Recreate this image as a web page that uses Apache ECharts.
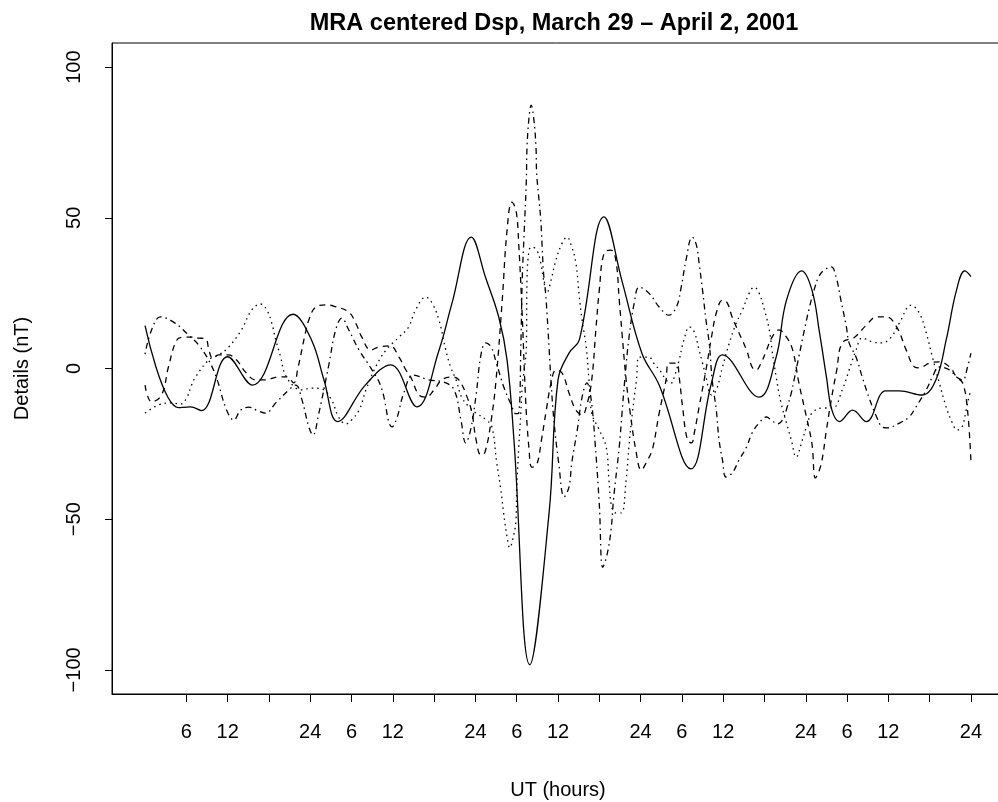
<!DOCTYPE html>
<html>
<head>
<meta charset="utf-8">
<script src="https://cdn.jsdelivr.net/npm/echarts@6/dist/echarts.min.js"></script>
<style>
html,body{margin:0;padding:0;background:#fff;}
#chart{width:998px;height:802px;}
</style>
</head>
<body>
<div id="chart"></div>
<script>
// ---- data (hours since 00 UT March 29, value in nT) ----
var solidHours  = [0,4.9,6.6,8.2,12,15.6,21.5,24.2,26,28,32,35.7,39.5,42.7,44.6,47.4,49.5,51.4,52.6,53.6,55.9,58.7,60,61.6,63.1,66.7,69.3,72.2,74.7,79.3,82.3,83.9,89.2,91.7,93.2,95.4,96.9,98,99,99.8,100.9,102.8,104.8,107.6,109.6,112.9,114.9,116.4,117.9,119.1,120];
var solidValues = [14.2,-13,-12.7,-14,3.9,-5.5,18,9.4,-3.8,-17.6,-5.5,1.2,-12.7,6,21.7,43.6,30,17,2.8,-23.7,-98.3,-48,-3.8,5.1,9.5,50.3,29,5,-5.5,-33.3,-4.8,4.5,-9.5,3.8,22.7,32.4,26,11.8,-2.8,-13.8,-17.6,-13.8,-17.6,-7.4,-7.4,-8.8,-3.8,9.5,26,32.4,30.5];

var dashedHours  = [0,0.95,2.4,3.4,4.6,5.6,6.8,7.8,8.8,9.3,9.8,10.7,12.1,13.3,14.6,16.1,17.5,19.4,20.6,21.6,22.2,23.3,23.8,24.8,26.3,27.4,29.6,30.6,31.5,32.8,33.9,35.6,36.9,37.9,38.6,39.8,40.8,42,43.1,44.6,45.6,46.8,47.5,48.1,48.8,49.4,50.3,51,51.9,52.6,53.3,53.9,54.3,54.8,55.3,55.8,56.2,56.9,57.6,58.3,59,59.7,60.6,61.6,62.6,63.5,64.2,64.9,65.5,66,66.7,67.7,68.4,68.9,69.3,69.9,70.5,71.3,72.1,73,73.7,74.7,75.7,76.1,77.2,77.6,78.1,78.8,79.4,79.8,80.5,81.5,82.3,83,83.9,84.6,85.3,86.3,87.4,88.2,88.8,89.5,90.3,91.1,92.1,93.2,94.1,95,96.1,96.9,97.4,98.2,99,99.7,100.5,101.3,103.1,104.8,106.3,107.7,109.2,110.6,111.8,112.5,114,115.4,116.9,117.9,118.8,119.5,120];
var dashedValues = [-5.5,-11.1,-8.8,0.5,9.4,10.4,10.4,10.1,9.8,6,3.5,4.5,4.5,2.8,-1.2,-3.8,-3.8,-2.8,-2.8,-4.8,0,11.8,16.1,20.4,21.1,20.7,18.7,15.1,10.4,6.1,7.1,7.5,3.8,-0.5,-2.8,-8.8,-9.5,-7.1,-3.8,-2.8,-3.8,-9.5,-14.8,-23.7,-28.7,-27.7,-17.1,-3.8,22.7,45.9,55.2,52.5,41,17.7,-10.4,-27,-32.7,-32,-23.7,-13.8,-4.8,-0.5,-1.5,-8.1,-13.8,-15.4,-12,-3.8,12.8,26,38.3,39.3,36,22.7,11.8,-3.8,-14.8,-27,-33.7,-30.4,-27,-14.8,-3.8,1.8,1.8,-2.8,-12.8,-23.7,-24.7,-21.4,-12.8,-0.5,10.4,18.4,22.7,21.7,17.1,11.8,6.1,0.5,-0.5,1.8,6.1,10.4,12.8,10.4,6.1,-4.8,-16.1,-25,-36.3,-32,-20.4,-10.4,-0.5,8.5,10.4,14.4,17.1,17.1,13.8,6.1,0.5,0.2,1.8,2.2,0.5,-2.8,-4.8,-13.8,-31];

var dottedHours  = [0,1.96,3.85,5.16,6.04,6.76,7.35,9.24,10.7,12.15,14,15.5,16.8,17.7,18.4,19,19.7,20.4,21.9,22.8,24.2,25.7,27.1,28.1,29.2,30,31.1,32.1,33.5,35,36.9,38.3,39.3,40.8,41.7,42.7,43.7,44.4,45.2,46,47.1,48.1,49.6,50.4,51.1,51.7,52.1,52.6,53,53.3,53.9,54,54.3,54.6,54.8,55.4,55.5,55.8,56.2,56.9,57.5,57.9,58.4,59,59.7,60.6,61.3,62,62.6,63.1,63.5,64.1,64.5,64.9,66,67,67.4,67.8,68.4,69.2,69.9,70.3,70.8,71.4,71.8,73.2,73.9,75,75.7,76.5,76.9,77.6,78.3,79.1,79.8,80.5,81,81.5,82.3,83,83.9,84.9,85.9,86.8,87.8,88.5,89.2,90,90.7,91.1,91.7,92.4,93.2,93.9,94.6,95.5,96.1,96.9,98.4,99.9,101.3,102.3,103.3,104.2,105.7,107.1,108.4,109.6,111.3,112.5,113.5,114.4,115.4,116.4,117.3,118,118.7,119.3,119.7,120];
var dottedValues = [-14.8,-12.1,-11.4,-11.8,-9.8,-5.5,-2.8,2.8,4.5,7.1,12.8,19.4,21.4,19.4,15.1,9.5,3.8,-2.2,-6.5,-7.1,-6.5,-6.8,-10.4,-16,-18.4,-17.1,-13.8,-7.1,0.5,6.1,10.4,13.8,19.4,23.7,21.7,16.1,6.1,0.5,-3.8,-9.5,-12.8,-14.8,-17.1,-19.4,-31.3,-40.3,-47.9,-55.9,-59.5,-57.9,-50.2,-40.3,-26,-14.8,-6.1,7.1,29.4,39.3,40.3,39.3,35,29.4,25.2,29.4,36,41.6,43.6,40.3,35,23.7,16.1,7.1,-3.8,-14.8,-20.4,-26,-37,-45.9,-47.9,-47.9,-37,-26,-14.8,-3.8,3.8,3.8,1.8,-1.2,-3.8,-4.8,-2.8,2.8,9.5,13.8,12.1,6.1,1.8,-2.8,-8.8,-7.1,0.5,8.5,15.1,19.4,25.1,27,25.1,19.4,12.8,6.1,-2.8,-11.4,-18.1,-23.7,-29.4,-23.7,-19.4,-14.8,-13.1,-13.1,-7.1,-0.5,6.1,10.1,8.8,8.5,10.4,15.1,21,18.4,11.8,3.8,-4.8,-12.8,-18.1,-20.4,-19.4,-13.8,-9.5,-7.1];

var dotdashHours  = [0,0.95,2.25,4.15,6.33,7.78,9.24,10.4,11.85,12.9,13.9,15.1,16.2,17.5,19,20.9,21.9,22.8,23.8,24.4,25.2,26.7,27.7,28.6,29.6,31.1,32.8,34.3,35.9,36.6,37.6,39,41.2,43.4,44.9,45.9,46.6,47.3,48.1,48.8,49.5,50.3,51,52.1,53.2,53.9,54.3,54.6,54.8,55.1,55.4,55.5,55.8,56.1,56.5,56.8,56.9,57.2,57.5,57.7,57.9,58.2,58.4,58.7,59,59.4,60.1,60.9,61.6,62,62.8,63.5,64.2,64.8,65.4,66,66.5,67.1,67.7,68.1,68.9,69.3,69.7,70.3,71.1,71.8,73.2,74.7,76.1,77.2,77.9,78.6,79.5,80.1,80.5,81,81.5,82,82.4,83,83.4,83.9,84.4,85.3,86.3,87.4,88.2,89.2,90.3,91,91.9,92.6,93.3,93.9,94.3,95,95.8,96.5,97.2,97.9,98.7,99.7,100.4,101.1,101.9,102.3,103.3,104.2,105.3,106.3,107.1,107.8,109.6,111,112,113.5,114.4,115.4,116.9,117.9,118.8,119.5,120];
var dotdashValues = [4.8,12.8,17.1,15.4,11.1,7.8,2.8,-3.2,-13.8,-17.1,-13.8,-12.8,-13.8,-14.8,-11.4,-7.1,-5.5,-10.4,-19.4,-22.1,-15.4,1.2,12.8,16.7,12.8,6.1,0.2,-6.1,-19.4,-16.4,-8.1,-2.2,-3.8,-4.5,-7.1,-17.1,-24.7,-20.4,-8.8,4.5,8.5,7.1,2.2,-6,-12,-15,-14.8,7.1,29.4,45.9,62.5,73.5,83.5,87.4,82.4,73.5,64.8,56.9,49.3,40.3,31.7,25,18.4,7.1,-4.8,-17.1,-31.3,-42.6,-39.3,-31.3,-20.4,-9.5,-4.8,-10,-25,-45,-66,-62,-53.6,-42.6,-26,-14.8,-3.8,10,22,27,25,20.4,17.7,20.4,27,36,43.6,41,35,26,16.1,7.8,-3.8,-13.8,-23.7,-30.4,-36,-34.7,-30.4,-26,-21.4,-18.1,-16.1,-17.1,-18.4,-17.1,-12.8,-8.1,-3.8,4,12.8,20,26,30.5,32.7,33.7,30.4,22.7,13.8,8.5,3.8,-2.8,-10.4,-16.1,-19.4,-19.7,-18.1,-16.1,-12.8,-7.1,-2.8,0.5,-0.5,-2.8,-3.8,0.5,5.1];

var yTicks = [-100,-50,0,50,100];
var xTicks = [6,12,18,24,30,36,42,48,54,60,66,72,78,84,90,96,102,108,114,120];
var xLabels = [6,12,24,30,36,48,54,60,72,78,84,96,102,108,120];

function pairs(h, v){ var out=[]; var n=Math.min(h.length,v.length); for(var i=0;i<n;i++) out.push([h[i], v[i]]); return out; }

var chart = echarts.init(document.getElementById('chart'), null, {renderer:'canvas'});
var FONT = 'Liberation Sans, Arial, Helvetica, sans-serif';
var lw = 1.3;
chart.setOption({
  animation:false,
  backgroundColor:'#ffffff',
  title:{
    text:'MRA centered Dsp, March 29 \u2013 April 2, 2001',
    left:549, top:7, textAlign:'center',
    textStyle:{fontFamily:FONT, fontSize:23.5, fontWeight:'bold', color:'#000'}
  },
  grid:{left:112, right:-6, top:43, bottom:108, show:true, borderColor:'#000', borderWidth:1, backgroundColor:'transparent', outerBoundsMode:'none', containLabel:false},
  xAxis:{
    type:'value', min:-4.8, max:124.8,
    name:'UT (hours)', nameLocation:'middle', nameGap:86,
    nameTextStyle:{fontFamily:FONT, fontSize:20, color:'#000'},
    axisLine:{show:true, onZero:false, lineStyle:{color:'#000', width:1}},
    axisTick:{show:true, length:8, lineStyle:{color:'#000'}, customValues:xTicks},
    axisLabel:{show:true, margin:28, fontFamily:FONT, fontSize:20, color:'#000', customValues:xLabels,
      formatter:function(v){ var r = v % 24; return String(r === 0 ? 24 : r); }},
    splitLine:{show:false}
  },
  yAxis:{
    type:'value', min:-108, max:108,
    name:'Details (nT)', nameLocation:'middle', nameGap:80, nameRotate:90,
    nameTextStyle:{fontFamily:FONT, fontSize:20, color:'#000'},
    axisLine:{show:true, onZero:false, lineStyle:{color:'#000', width:1}},
    axisTick:{show:true, length:7, lineStyle:{color:'#000'}, customValues:yTicks},
    axisLabel:{show:true, rotate:90, margin:28, fontFamily:FONT, fontSize:20, color:'#000', customValues:yTicks,
      formatter:function(v){ return String(v).replace('-', '\u2212'); }},
    splitLine:{show:false}
  },
  series:[
    {type:'line', name:'solid', data:pairs(solidHours, solidValues), smooth:0.4, symbol:'none', lineStyle:{color:'#000', width:lw, type:'solid'}},
    {type:'line', name:'dashed', data:pairs(dashedHours, dashedValues), smooth:0.4, symbol:'none', lineStyle:{color:'#000', width:lw, type:[6,5]}},
    {type:'line', name:'dotted', data:pairs(dottedHours, dottedValues), smooth:0.4, symbol:'none', lineStyle:{color:'#000', width:lw, type:[1.5,4]}},
    {type:'line', name:'dotdash', data:pairs(dotdashHours, dotdashValues), smooth:0.4, symbol:'none', lineStyle:{color:'#000', width:lw, type:[1.5,4,6,4]}}
  ]
});
</script>
</body>
</html>
